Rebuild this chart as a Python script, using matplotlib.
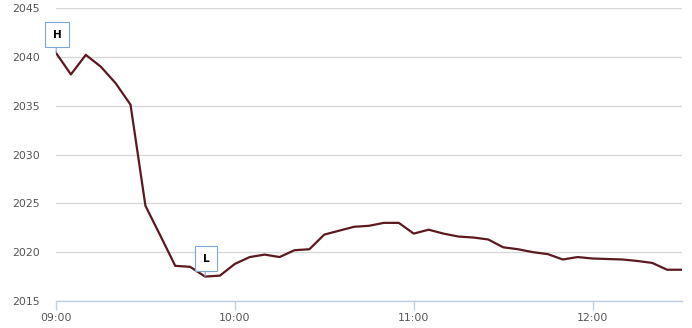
import numpy as np
import pandas as pd
import matplotlib
matplotlib.use('Agg')
import matplotlib.pyplot as plt

# 5-minute prices, 09:00 - 12:30
times = pd.date_range('2020-01-01 09:00', '2020-01-01 12:30', freq='5min')
prices = [2040.4, 2038.2, 2040.2, 2039.0, 2037.3, 2035.1, 2024.75, 2021.7,
          2018.6, 2018.5, 2017.5, 2017.6, 2018.8, 2019.5, 2019.75, 2019.5,
          2020.2, 2020.3, 2021.8, 2022.2, 2022.6, 2022.7, 2023.0, 2023.0,
          2021.9, 2022.3, 2021.9, 2021.6, 2021.5, 2021.3, 2020.5, 2020.3,
          2020.0, 2019.8, 2019.25, 2019.5, 2019.35, 2019.3, 2019.25, 2019.1,
          2018.9, 2018.2, 2018.2]
xticks = ['09:00', '10:00', '11:00', '12:00']
yticks = [2015, 2020, 2025, 2030, 2035, 2040, 2045]

mins = (times - times[0]).total_seconds() / 60

fig = plt.figure(figsize=(6.92, 3.28), dpi=100)
ax = fig.add_axes([56/692, 27/328, 626/692, 293/328])

ax.plot(mins, prices, color='#5b1a20', lw=1.6, zorder=3)

ax.set_xlim(0, 210)
ax.set_ylim(2015, 2045)
ax.set_yticks(yticks)
ax.set_xticks([0, 60, 120, 180])
ax.set_xticklabels(xticks)
ax.grid(axis='y', color='#d8d8d8', lw=1)
ax.set_axisbelow(True)

for s in ['top', 'right', 'left']:
    ax.spines[s].set_visible(False)
ax.spines['bottom'].set_color('#c0d0e0')
ax.spines['bottom'].set_linewidth(1)
ax.tick_params(axis='y', length=0, pad=11.5, labelsize=7.8, labelcolor='#555555')
ax.tick_params(axis='x', length=6.5, width=1, color='#c0d0e0', pad=2,
               labelsize=7.8, labelcolor='#555555')

# high / low flags
hi = int(np.argmax(prices))
lo = int(np.argmin(prices))
hi = 0 if prices[0] >= max(prices) - 0.01 else hi
for i, lab in [(hi, 'H'), (lo, 'L')]:
    ax.annotate(lab, (mins[i], prices[i]), xytext=(1, 18), textcoords='offset pixels',
                ha='center', va='center', fontsize=7.5, fontweight='bold', color='black',
                bbox=dict(boxstyle='square,pad=0.72', fc=(1, 1, 1, 0.8), ec='#7ea6d6', lw=0.8),
                arrowprops=dict(arrowstyle='-', color='#7ea6d6', lw=0.8, shrinkA=0, shrinkB=0),
                zorder=4)

fig.savefig('out.png', dpi=100)
